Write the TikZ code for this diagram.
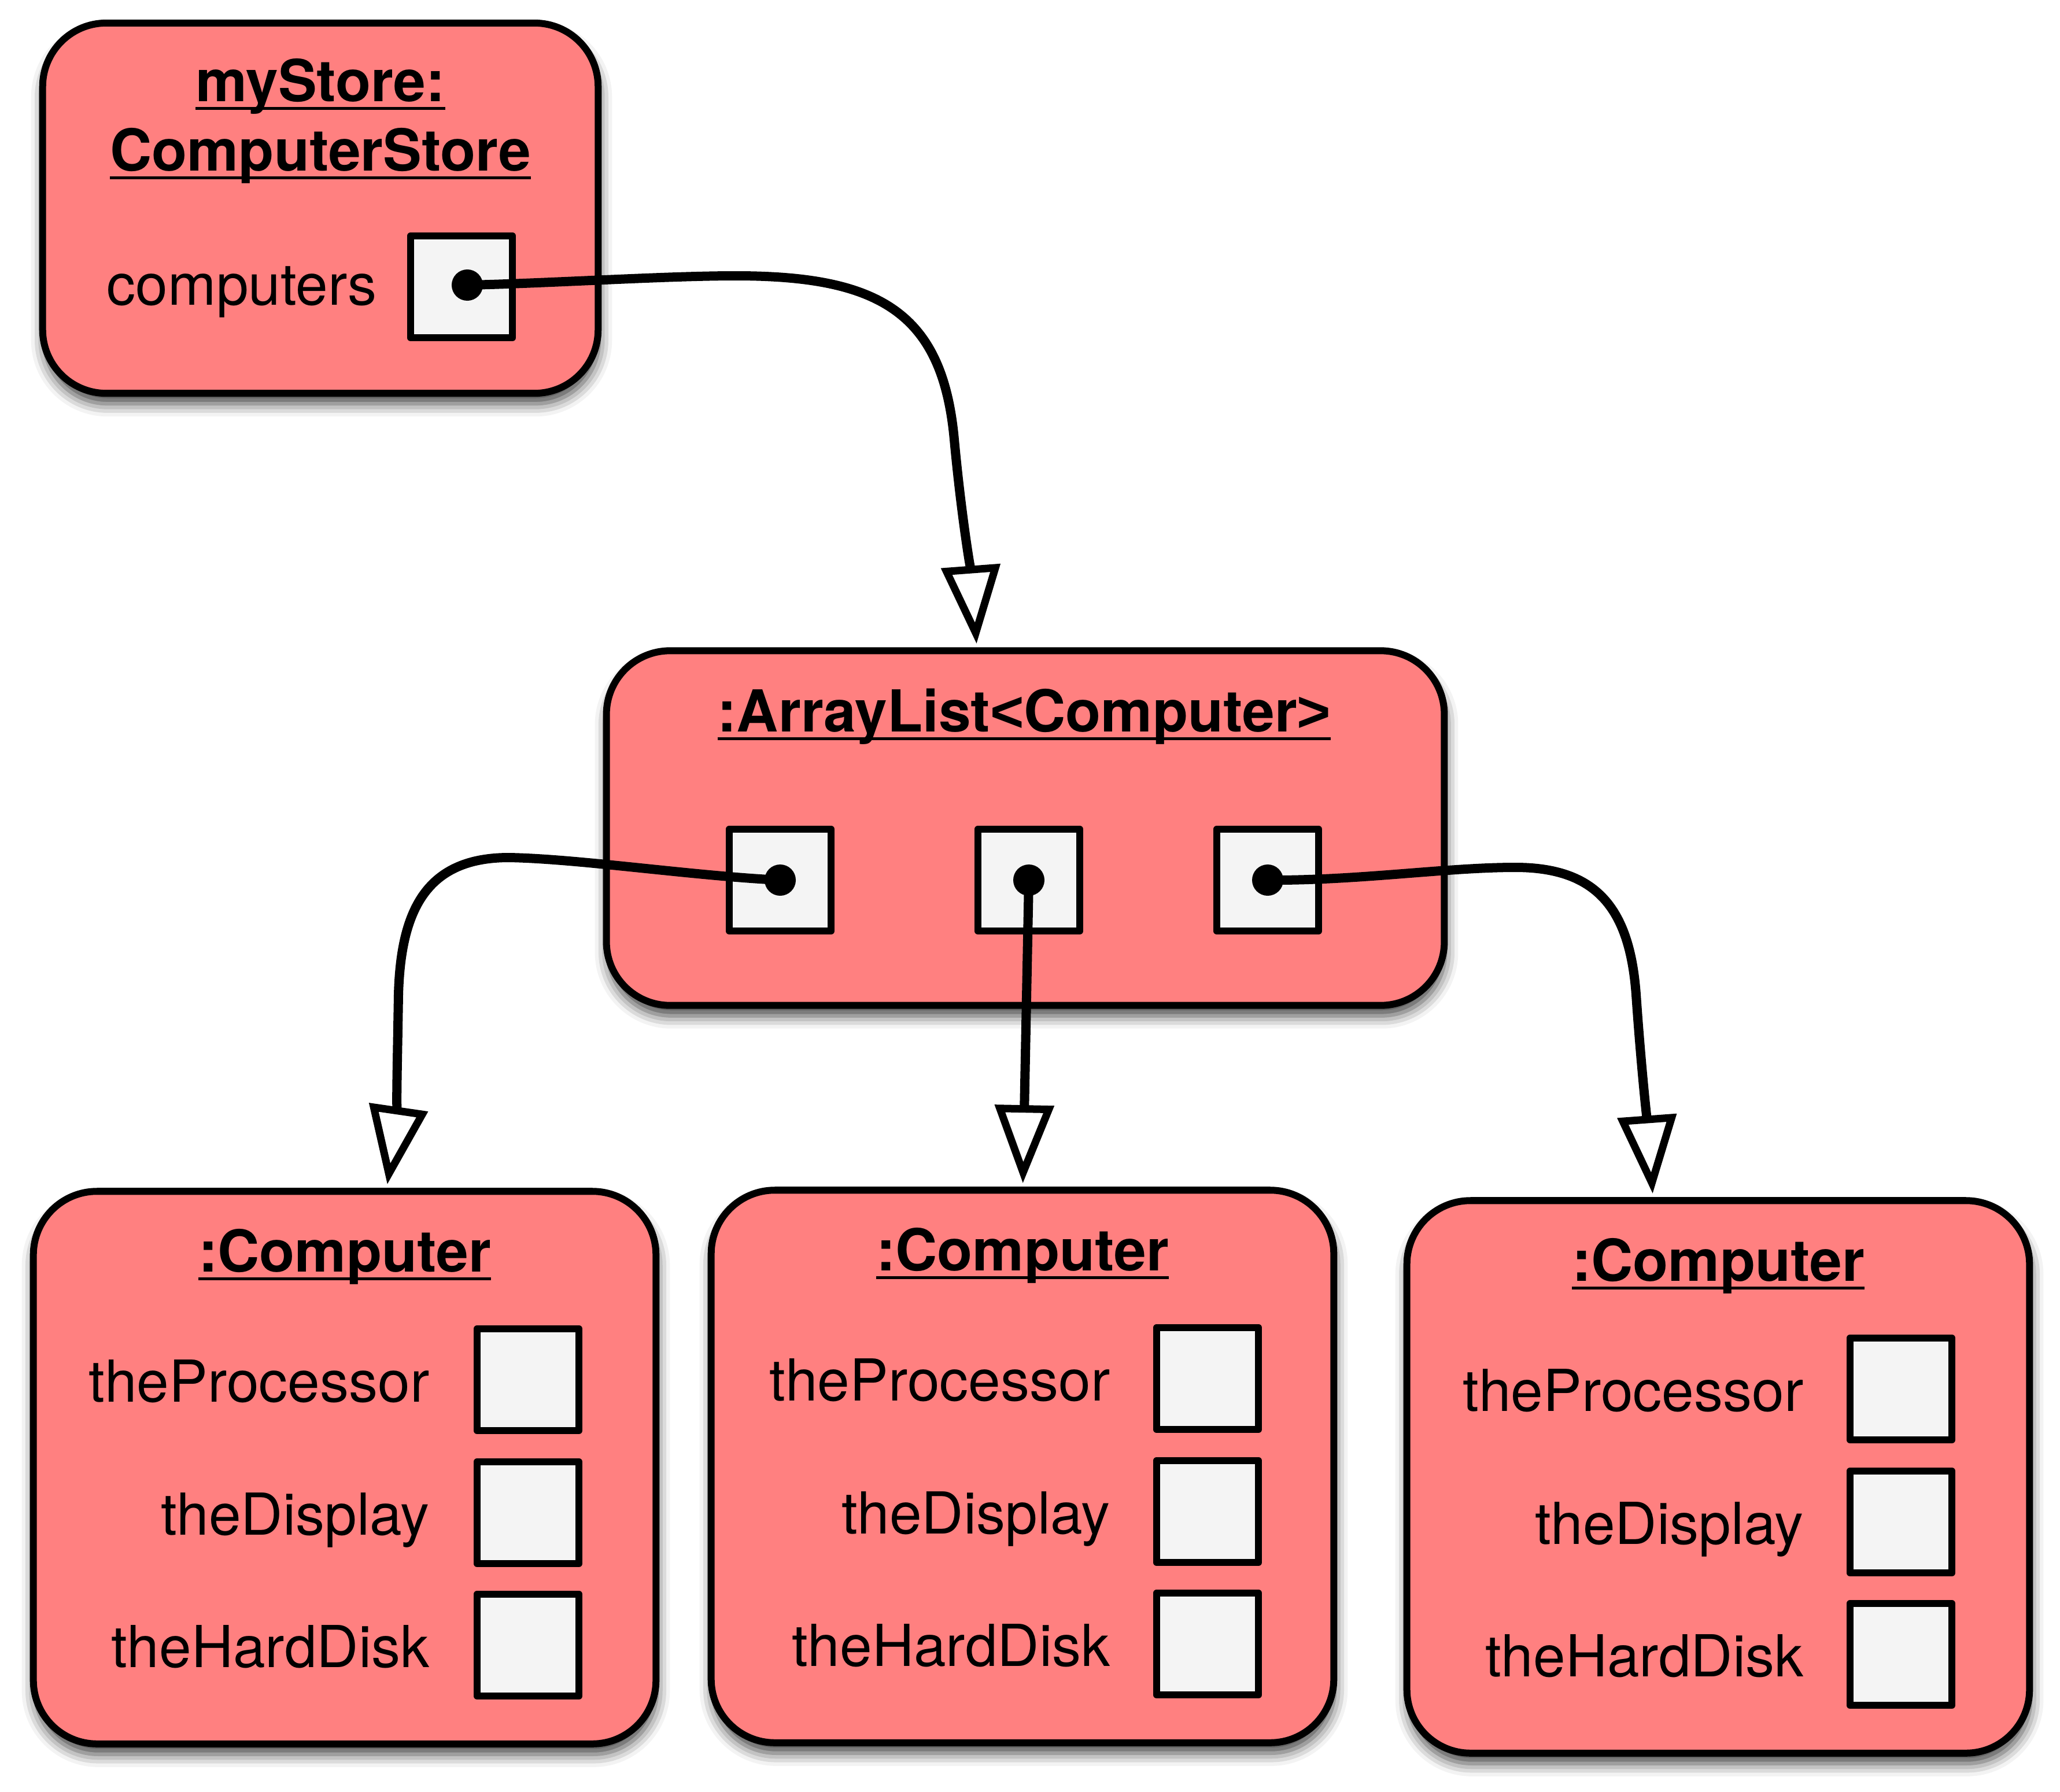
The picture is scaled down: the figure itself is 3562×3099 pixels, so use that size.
\documentclass[tikz,border=0pt]{standalone}
\usepackage{fontspec}
\setmainfont{TeX Gyre Heros}
\newfontfamily\angfont{Liberation Sans}
\usetikzlibrary{arrows.meta,calc,shadows.blur}
\definecolor{objfill}{RGB}{255,128,128}
\definecolor{slotfill}{RGB}{244,244,244}
\newsavebox\ulsave
\newcommand\ultext[1]{\sbox\ulsave{#1}\rlap{\raisebox{-0.15cm}{\rule{\wd\ulsave}{0.055cm}}}\usebox\ulsave}
\begin{document}
\begin{tikzpicture}[x=0.01cm,y=-0.01cm,
  objbox/.style={draw=black, line width=0.12cm, fill=objfill, rounded corners=1.1cm, inner sep=0pt,
    blur shadow={shadow xshift=0.02cm, shadow yshift=-0.18cm, shadow blur radius=0.22cm, shadow opacity=75}},
  slotbox/.style={draw=black, line width=0.12cm, fill=slotfill, line join=round,
    minimum width=1.76cm, minimum height=1.76cm, inner sep=0pt},
  dotnode/.style={circle, fill=black, minimum size=0.54cm, inner sep=0pt},
  lbl/.style={font=\fontsize{28.45pt}{34pt}\selectfont, inner sep=0pt},
  ttl/.style={font=\fontsize{28.45pt}{34pt}\selectfont\bfseries, inner sep=0pt},
  conn/.style={line width=0.16cm, -{Triangle[fill=white, length=1.35cm, width=1.0cm, line width=0.13cm]}}]
\useasboundingbox (0,0) rectangle (3562,3099);

% myStore box
\node[objbox, minimum width=9.60cm, minimum height=6.40cm] (store) at (554,360) {};
\node[ttl, anchor=base] (storeA) at (554,175) {\ultext{myStore:}};
\node[ttl, anchor=base] (storeB) at (554,295) {\ultext{ComputerStore}};
\node[lbl, anchor=base east] (compsLbl) at (652,527) {computers};
\node[slotbox] (s0) at (798,496) {};

% ArrayList box
\node[objbox, minimum width=14.48cm, minimum height=6.13cm] (alist) at (1773,1432) {};
\node[ttl, anchor=base] (alTitle) at (1771,1265) {\ultext{:ArrayList{\angfont\bfseries <}Computer{\angfont\bfseries >}}};
\node[slotbox] (s1) at (1349,1522) {};
\node[slotbox] (s2) at (1779,1522) {};
\node[slotbox] (s3) at (2192,1522) {};

% Computer boxes
\foreach \n/\cx/\tp/\lx/\sx in {1/596/2055/743/913, 2/1768/2053/1920/2088, 3/2971/2071/3119/3287} {
  \node[objbox, minimum width=10.76cm, minimum height=9.55cm] (comp\n) at (\cx,\tp+483) {};
  \node[ttl, anchor=base] (ct\n) at (\cx,\tp+144) {\ultext{:Computer}};
  \node[lbl, anchor=base east] (lp\n) at (\lx,\tp+369) {theProcessor};
  \node[lbl, anchor=base east] (ld\n) at (\lx,\tp+599) {theDisplay};
  \node[lbl, anchor=base east] (lh\n) at (\lx,\tp+828) {theHardDisk};
  \node[slotbox] (sp\n) at (\sx,\tp+331) {};
  \node[slotbox] (sd\n) at (\sx,\tp+561) {};
  \node[slotbox] (sh\n) at (\sx,\tp+790) {};
}

% dots
\node[dotnode] (d0) at (808,493) {};
\node[dotnode] (d1) at (1349,1522) {};
\node[dotnode] (d2) at (1779,1522) {};
\node[dotnode] (d3) at (2192,1522) {};

% connectors
\draw[conn] (d0.center) .. controls (950,490) and (1150,477) .. (1272,477)
  .. controls (1520,477) and (1630,540) .. (1650,760)
  .. controls (1662,890) and (1680,1000) .. ($(alist.north west)+(646,-6)$);
\draw[conn] (d1.center) .. controls (1200,1515) and (1000,1485) .. (880,1483)
  .. controls (740,1483) and (693,1570) .. (689,1720)
  .. controls (687,1850) and (684,1950) .. ($(comp1.north west)+(618,-6)$);
\draw[conn] (d2.center) -- ($(comp2.north west)+(545,-6)$);
\draw[conn] (d3.center) .. controls (2350,1523) and (2500,1500) .. (2620,1500)
  .. controls (2760,1500) and (2818,1570) .. (2829,1720)
  .. controls (2838,1850) and (2850,1960) .. ($(comp3.north west)+(431,-6)$);
\end{tikzpicture}
\end{document}
